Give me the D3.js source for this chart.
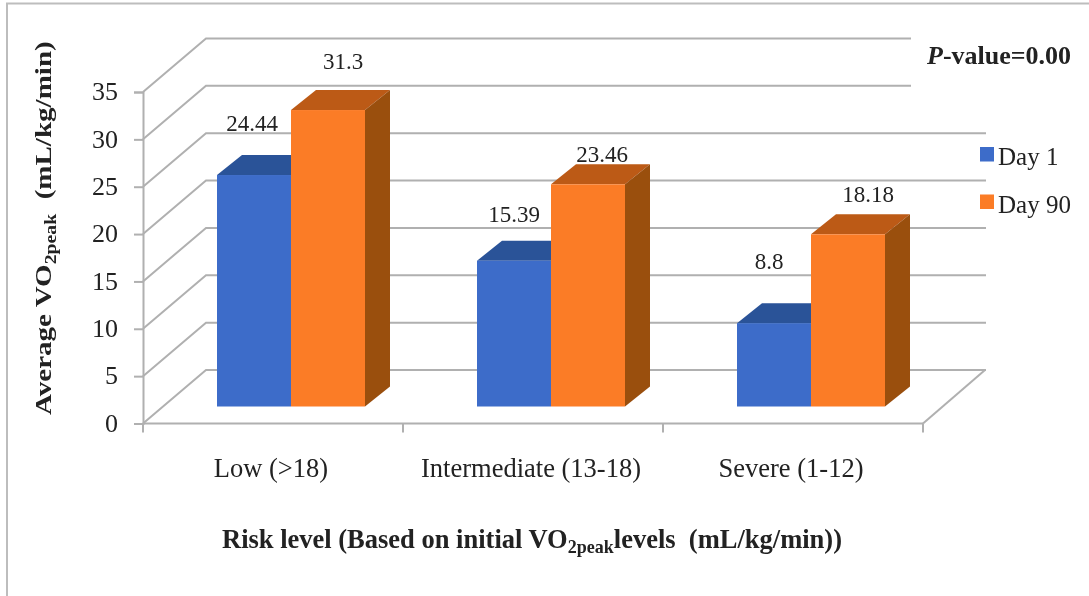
<!DOCTYPE html>
<html>
<head>
<meta charset="utf-8">
<script src="https://cdn.jsdelivr.net/npm/d3@7"></script>
<style>
  html, body { margin: 0; padding: 0; background: #fff; }
  svg { display: block; }
  text { font-family: "Liberation Serif", serif; fill: #222; }
</style>
</head>
<body>
<div id="chart-container"></div>
<script>
// Values
const categories = ["Low (>18)", "Intermediate (13-18)", "Severe (1-12)"];
const seriesNames = ["Day 1", "Day 90"];
const day1Values = [24.44, 15.39, 8.8];
const day90Values = [31.3, 23.46, 18.18];
const day1Labels = ["24.44", "15.39", "8.8"];
const day90Labels = ["31.3", "23.46", "18.18"];
const yTicks = [0, 5, 10, 15, 20, 25, 30, 35];

const width = 1089;
const height = 596;

const colors = {
    "Day 1": { front: "#3d6cc9", top: "#2a5298" },
    "Day 90": { front: "#fb7b27", top: "#bc5a16", side: "#9a4f10" }
};
const gridColor = "#b0b0b0";

// the data labels were placed by hand in the original, so each has its own nudge
const labelNudge = {
    "Day 1": [[35, -44], [37, -39], [32, -54]],
    "Day 90": [[52, -41], [51, -22], [57, -32]]
};

const svg = d3.select("#chart-container")
    .append("svg")
    .attr("width", width)
    .attr("height", height);

// the reference is a slightly soft scan
const defs = svg.append("defs");
defs.append("filter")
    .attr("id", "soft")
    .attr("x", 0).attr("y", 0).attr("width", 1).attr("height", 1)
    .attr("filterUnits", "objectBoundingBox")
    .append("feGaussianBlur")
    .attr("stdDeviation", 0.45);

const root = svg.append("g").attr("filter", "url(#soft)");

root.append("rect")
    .attr("width", width)
    .attr("height", height)
    .attr("fill", "#fff");

// outer frame, only top and left show in the picture
root.append("path")
    .attr("d", "M7,596V3.5H1089")
    .attr("fill", "none")
    .attr("stroke", "#bdbdbd")
    .attr("stroke-width", 2);

// front plane scales
const y = d3.scaleLinear().domain([0, 35]).range([423.5, 92]);
const x = d3.scaleBand().domain(categories).range([143, 923]);
const inner = d3.scaleBand().domain(seriesNames).range([0, 148]);

// depth offsets of the 3D box
const wallDx = 63, wallDy = -53.5;
const barFrontDx = 18, barFrontDy = -17;
const barSideDx = 25, barSideDy = -20;

const grid = root.append("g")
    .attr("fill", "none")
    .attr("stroke", gridColor)
    .attr("stroke-width", 2);

// back wall lines and the slanted lines on the left wall
yTicks.forEach(t => {
    const y0 = y(t);
    grid.append("path")
        .attr("d", `M${x.range()[0]},${y0}l${wallDx},${wallDy}H${x.range()[1] + wallDx}`);
});

// right edge of the floor
grid.append("path")
    .attr("d", `M${x.range()[1]},${y(0)}l${wallDx - 1},${wallDy}`);

// the P-value text box hides the right end of the two top lines
root.append("rect")
    .attr("x", 911)
    .attr("y", 30)
    .attr("width", 160)
    .attr("height", 70)
    .attr("fill", "#fff");

// y axis
const yAxis = root.append("g")
    .attr("transform", `translate(${x.range()[0]},0)`)
    .call(d3.axisLeft(y).tickValues(yTicks).tickSize(9).tickPadding(16));
yAxis.selectAll("line").attr("stroke", gridColor).attr("stroke-width", 2);
yAxis.select(".domain").attr("stroke", gridColor).attr("stroke-width", 2);
yAxis.selectAll("text")
    .attr("font-size", 26)
    .attr("font-family", "Liberation Serif")
    .attr("fill", "#222")
    .attr("dy", "0.3em");

// x axis, ticks sit between the categories
const xAxisLine = root.append("g");
xAxisLine.append("line")
    .attr("x1", x.range()[0]).attr("x2", x.range()[1])
    .attr("y1", y(0)).attr("y2", y(0))
    .attr("stroke", gridColor).attr("stroke-width", 2);
xAxisLine.selectAll("line.tick")
    .data([0, 1, 2, 3])
    .join("line")
    .attr("class", "tick")
    .attr("x1", i => x.range()[0] + i * x.bandwidth())
    .attr("x2", i => x.range()[0] + i * x.bandwidth())
    .attr("y1", y(0))
    .attr("y2", y(0) + 9)
    .attr("stroke", gridColor)
    .attr("stroke-width", 2);

root.append("g")
    .selectAll("text")
    .data(categories)
    .join("text")
    .attr("x", d => x(d) + x.bandwidth() / 2 - 2)
    .attr("y", 477)
    .attr("text-anchor", "middle")
    .attr("font-size", 26.5)
    .text(d => d);

// bars, drawn per group so the orange one covers the top of the blue one
const rows = categories.map((c, i) => ({
    category: c,
    values: [
        { name: "Day 1", value: day1Values[i], label: day1Labels[i], nudge: labelNudge["Day 1"][i] },
        { name: "Day 90", value: day90Values[i], label: day90Labels[i], nudge: labelNudge["Day 90"][i] }
    ]
}));

const groups = root.append("g")
    .selectAll("g")
    .data(rows)
    .join("g")
    .attr("transform", d => `translate(${x(d.category) + x.bandwidth() / 2 - 74 + barFrontDx},${barFrontDy})`);

const bars = groups.selectAll("g")
    .data(d => d.values)
    .join("g")
    .attr("transform", d => `translate(${inner(d.name)},0)`);

const barW = inner.bandwidth();

bars.append("path")
    .attr("fill", d => colors[d.name].top)
    .attr("d", d => {
        const t = y(d.value);
        return `M0,${t}l${barSideDx},${barSideDy}h${barW}l${-barSideDx},${-barSideDy}Z`;
    });

bars.filter(d => d.name === "Day 90").append("path")
    .attr("fill", d => colors[d.name].side)
    .attr("d", d => {
        const t = y(d.value);
        return `M${barW},${t}l${barSideDx},${barSideDy}V${y(0) + barSideDy}l${-barSideDx},${-barSideDy}Z`;
    });

bars.append("rect")
    .attr("x", 0)
    .attr("y", d => y(d.value))
    .attr("width", barW)
    .attr("height", d => y(0) - y(d.value))
    .attr("fill", d => colors[d.name].front);

// data labels
bars.append("text")
    .attr("x", d => d.nudge[0])
    .attr("y", d => y(d.value) + d.nudge[1])
    .attr("text-anchor", "middle")
    .attr("font-size", 23)
    .attr("fill", "#333")
    .text(d => d.label);

// legend
const legend = root.append("g")
    .selectAll("g")
    .data(seriesNames)
    .join("g")
    .attr("transform", (d, i) => `translate(980,${147 + i * 47.5})`);
legend.append("rect")
    .attr("width", 14)
    .attr("height", 14.5)
    .attr("fill", d => colors[d].front);
legend.append("text")
    .attr("x", 18)
    .attr("y", 18)
    .attr("font-size", 25)
    .text(d => d);

// P-value note
const note = root.append("text")
    .attr("x", 927)
    .attr("y", 64)
    .attr("font-size", 26)
    .attr("font-weight", "bold")
    .attr("fill", "#111");
note.append("tspan").attr("font-style", "italic").text("P");
note.append("tspan").text("-value=0.00");

// axis titles with the subscript
function titleParts(sel, before, after, size) {
    sel.attr("font-size", size).attr("font-weight", "bold").attr("fill", "#111");
    sel.append("tspan").text(before);
    sel.append("tspan").attr("font-size", size * 0.68).attr("dy", 5).text("2peak");
    sel.append("tspan").attr("dy", -5).text(after);
}

// this title is stretched along its length in the original
root.append("text")
    .attr("transform", "translate(51,415) rotate(-90) scale(1.21,1)")
    .call(titleParts, "Average VO", "\u00a0\u00a0(mL/kg/min)", 24);

root.append("text")
    .attr("x", 222)
    .attr("y", 548)
    .call(titleParts, "Risk level (Based on initial VO", "levels\u00a0\u00a0(mL/kg/min))", 26.5);
</script>
</body>
</html>
